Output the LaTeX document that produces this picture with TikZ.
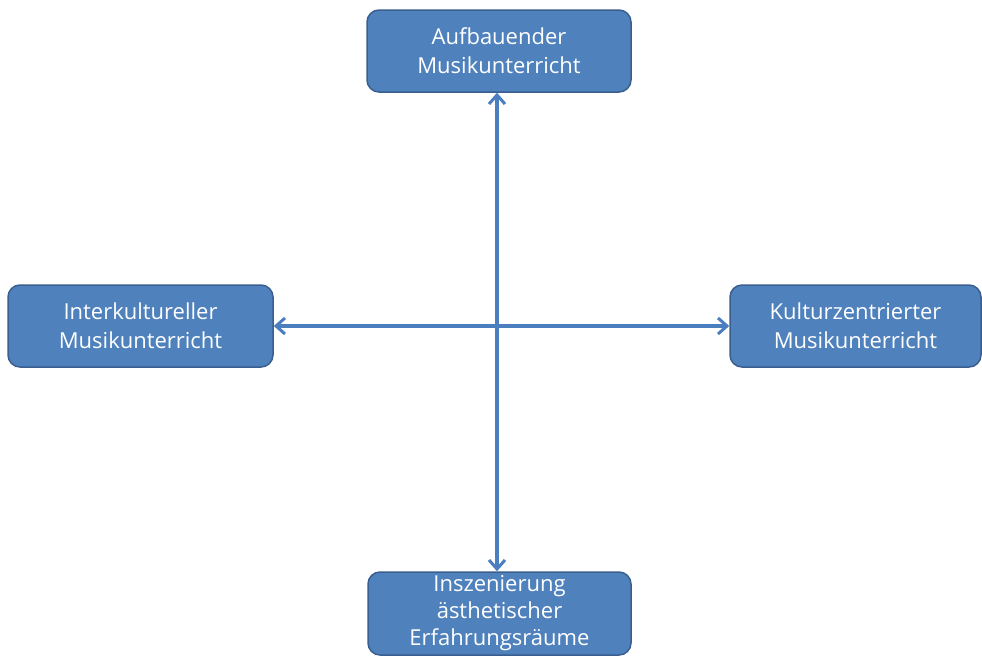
\documentclass[tikz,border=0pt]{standalone}
\usepackage{fontspec}
\setmainfont{Open Sans}
\usetikzlibrary{arrows.meta}
\definecolor{boxfill}{HTML}{4F81BD}
\definecolor{boxedge}{HTML}{3A5F8E}
\definecolor{linkblue}{HTML}{4A7EBF}
\begin{document}
\begin{tikzpicture}[x=1pt,y=-1pt,
  topicbox/.style={draw=boxedge, line width=1.5pt, fill=boxfill, rounded corners=12pt,
    text=white, align=center, inner sep=0pt,
    font=\fontsize{22}{29}\selectfont},
  link/.style={draw=linkblue, line width=3.2pt, {Straight Barb[length=9pt,width=16pt,line width=3pt]}-{Straight Barb[length=9pt,width=16pt,line width=3pt]}}]
\useasboundingbox (0,0) rectangle (982,659);
\node[topicbox, minimum width=264pt, minimum height=82pt] (top) at (499,51) {Aufbauender\\Musikunterricht};
\node[topicbox, minimum width=265pt, minimum height=82pt] (left) at (140.5,326) {Interkultureller\\Musikunterricht};
\node[topicbox, minimum width=251pt, minimum height=82pt] (right) at (855.5,326) {Kulturzentrierter\\Musikunterricht};
\node[topicbox, minimum width=263pt, minimum height=83pt, font=\fontsize{22}{27}\selectfont] (bottom) at (499.5,613.5) {Inszenierung\\ästhetischer\\Erfahrungsräume};
\draw[link] (top.south -| 497,0) -- (bottom.north -| 497,0);
\draw[link] (left.east) -- (right.west);
\end{tikzpicture}
\end{document}
